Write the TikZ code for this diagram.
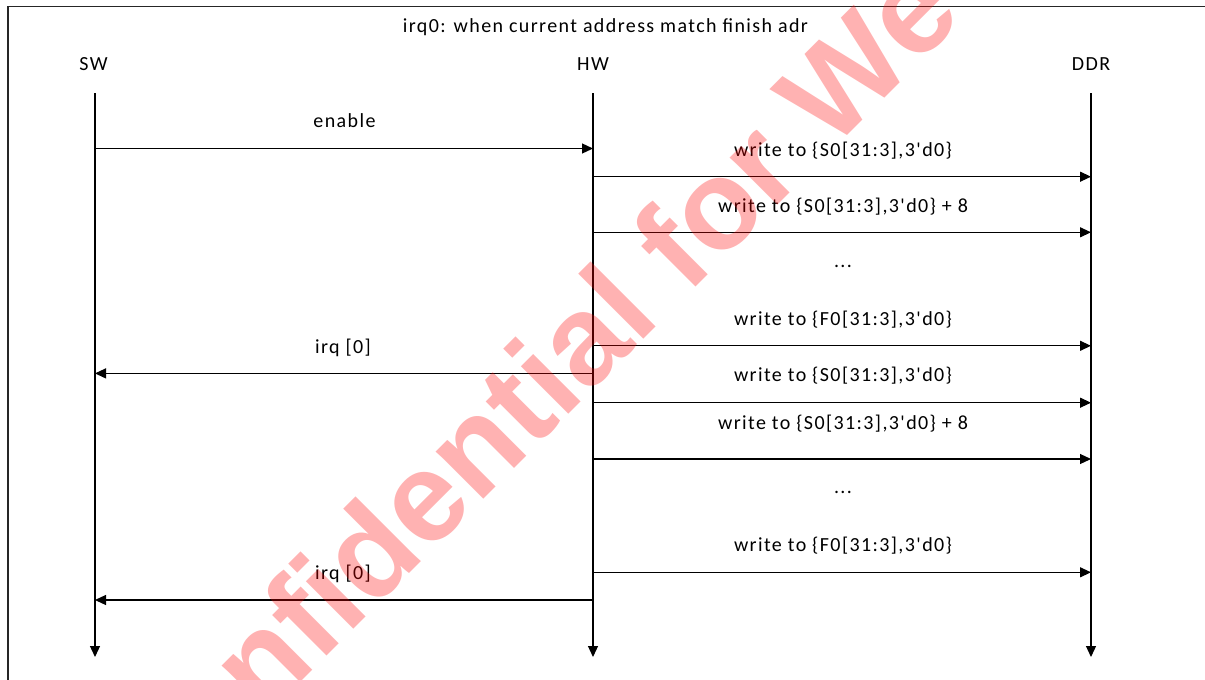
\documentclass[tikz,border=0pt]{standalone}
\usepackage{fontspec}
\setmainfont{Carlito}[Ligatures=TeXOff,LetterSpace=7]
\newfontfamily\wmfont{Liberation Sans}[BoldFont={Liberation Sans Bold}]
\usetikzlibrary{arrows.meta}
\begin{document}
\begin{tikzpicture}[x=1pt,y=-1pt,
  lbl/.style={font=\fontsize{20}{24}\selectfont, inner sep=0pt, anchor=base, text=black},
  lifeline/.style={line width=1.2pt, draw=black, -{Triangle[length=11pt,width=10pt]}},
  msg/.style={line width=1.2pt, draw=black, -{Triangle[length=11pt,width=10pt]}},
  frameline/.style={line width=1.3pt, draw=black!85},
  watermark/.style={font=\wmfont\bfseries\fontsize{127}{127}\selectfont, text=red, text opacity=0.3, inner sep=0pt, rotate=45, anchor=base west}
  ]
\useasboundingbox (0,0) rectangle (1205,680);
\fill[white] (0,0) rectangle (1205,680);
% frame
\draw[frameline] (8,680) -- (8,6.5) -- (1205,6.5);
% title and heads
\node[lbl, anchor=base west] (title) at (402.7,32) {irq0: when current address match finish adr};
\node[lbl] (sw) at (93.5,70) {SW};
\node[lbl] (hw) at (593,70) {HW};
\node[lbl] (ddr) at (1091,70) {DDR};
% lifelines
\coordinate (swtop) at (95,93);   \coordinate (swbot) at (95,657);
\coordinate (hwtop) at (593,93);  \coordinate (hwbot) at (593,657);
\coordinate (ddrtop) at (1091,93); \coordinate (ddrbot) at (1091,657);
\draw[lifeline] (swtop) -- (swbot);
\draw[lifeline] (hwtop) -- (hwbot);
\draw[lifeline] (ddrtop) -- (ddrbot);
% enable
\coordinate (sw1) at (95,148.5); \coordinate (hw0) at (593,148.5);
\draw[msg] (sw1) -- (hw0);
\node[lbl] (lenable) at (344.5,127.5) {enable};
% writes HW -> DDR
\coordinate (hw1) at (593,176.7); \coordinate (ddr1) at (1091,176.7);
\coordinate (hw2) at (593,232.3); \coordinate (ddr2) at (1091,232.3);
\coordinate (hw3) at (593,345.8); \coordinate (ddr3) at (1091,345.8);
\coordinate (hw4) at (593,402.7); \coordinate (ddr4) at (1091,402.7);
\coordinate (hw5) at (593,459.0); \coordinate (ddr5) at (1091,459.0);
\coordinate (hw6) at (593,572.3); \coordinate (ddr6) at (1091,572.3);
\draw[msg] (hw1) -- (ddr1);
\draw[msg] (hw2) -- (ddr2);
\draw[msg] (hw3) -- (ddr3);
\draw[msg] (hw4) -- (ddr4);
\draw[msg] (hw5) -- (ddr5);
\draw[msg] (hw6) -- (ddr6);
\node[lbl] (lw1) at (843,156) {write to \{S0[31:3],3'd0\}};
\node[lbl] (lw2) at (843,212) {write to \{S0[31:3],3'd0\} + 8};
\node[lbl] (ld1) at (843,267) {...};
\node[lbl] (lw3) at (843,325.5) {write to \{F0[31:3],3'd0\}};
\node[lbl] (lw4) at (843,381.5) {write to \{S0[31:3],3'd0\}};
\node[lbl] (lw5) at (843,429.5) {write to \{S0[31:3],3'd0\} + 8};
\node[lbl] (ld2) at (843,493.3) {...};
\node[lbl] (lw6) at (843,551.7) {write to \{F0[31:3],3'd0\}};
% irq HW -> SW
\coordinate (hwi1) at (593,373.4); \coordinate (swi1) at (95,373.4);
\coordinate (hwi2) at (593,600); \coordinate (swi2) at (95,600);
\draw[msg] (hwi1) -- (swi1);
\draw[msg] (hwi2) -- (swi2);
\node[lbl] (li1) at (343,353.5) {irq [0]};
\node[lbl] (li2) at (343,579.5) {irq [0]};
% watermark
\begin{scope}
\clip (0,0) rectangle (1205,680);
\node[watermark] (wm) at (263,720) {\llap{Co}nfidential for We};
\end{scope}
\end{tikzpicture}
\end{document}
